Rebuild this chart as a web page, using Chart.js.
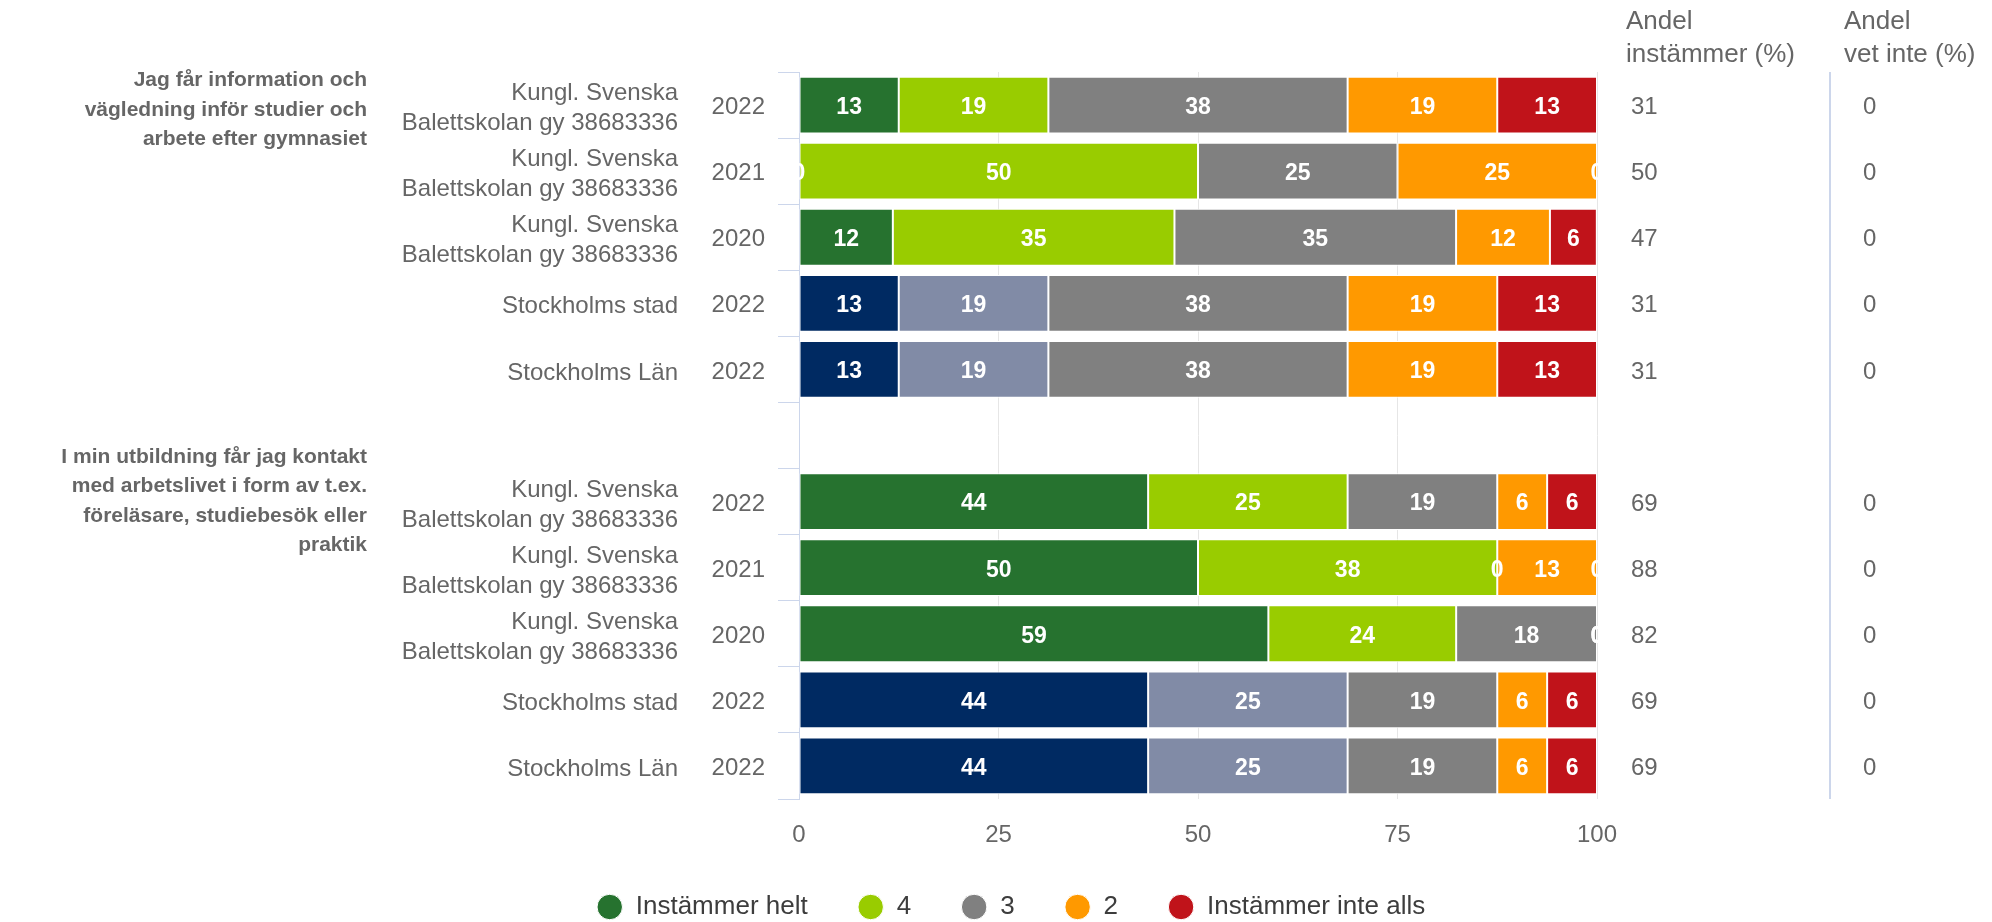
<!DOCTYPE html>
<html>
<head>
<meta charset="utf-8">
<script src="https://cdn.jsdelivr.net/npm/chart.js@4.4.1/dist/chart.umd.min.js"></script>
<style>
  html, body { margin: 0; padding: 0; background: #fff; }
  #wrap { width: 1992px; height: 922px; position: relative; }
</style>
</head>
<body>
<div id="wrap"><canvas id="chart"></canvas></div>
<script>
// Rows of the chart (an empty row separates the two questions)
const schools = [
    ['Kungl. Svenska', 'Balettskolan gy 38683336'],
    ['Kungl. Svenska', 'Balettskolan gy 38683336'],
    ['Kungl. Svenska', 'Balettskolan gy 38683336'],
    ['Stockholms stad'],
    ['Stockholms Län'],
    [],
    ['Kungl. Svenska', 'Balettskolan gy 38683336'],
    ['Kungl. Svenska', 'Balettskolan gy 38683336'],
    ['Kungl. Svenska', 'Balettskolan gy 38683336'],
    ['Stockholms stad'],
    ['Stockholms Län']
];
const years = ['2022', '2021', '2020', '2022', '2022', '', '2022', '2021', '2020', '2022', '2022'];

const questions = [
    ['Jag får information och', 'vägledning inför studier och', 'arbete efter gymnasiet'],
    ['I min utbildning får jag kontakt', 'med arbetslivet i form av t.ex.', 'föreläsare, studiebesök eller', 'praktik']
];
const questionFirstRow = [0, 6];

const seriesNames = ['Instämmer helt', '4', '3', '2', 'Instämmer inte alls'];

// percentages per answer
const helt      = [12.5,  0,    11.76, 12.5,  12.5,  null, 43.75, 50,   58.82, 43.75, 43.75];
const fyra      = [18.75, 50,   35.29, 18.75, 18.75, null, 25,    37.5, 23.53, 25,    25];
const tre       = [37.5,  25,   35.29, 37.5,  37.5,  null, 18.75, 0,    17.65, 18.75, 18.75];
const tva       = [18.75, 25,   11.76, 18.75, 18.75, null, 6.25,  12.5, 0,     6.25,  6.25];
const inteAlls  = [12.5,  0,    5.88,  12.5,  12.5,  null, 6.25,  0,    0,     6.25,  6.25];

const andelInstammer = [31, 50, 47, 31, 31, null, 69, 88, 82, 69, 69];
const andelVetInte   = [0, 0, 0, 0, 0, null, 0, 0, 0, 0, 0];

const xTicks = [0, 25, 50, 75, 100];

const isRegion = schools.map(s => (s[0] || '').startsWith('Stockholms'));
const GREY_TEXT = '#666666';
const LINE_BLUE = '#ccd6eb';
const FONT = "'Liberation Sans', Arial, Helvetica, sans-serif";

Chart.defaults.font.family = FONT;

const barLabels = {
    id: 'barLabels',
    afterDatasetsDraw(chart) {
        const ctx = chart.ctx;
        ctx.save();
        ctx.font = 'bold 23px ' + FONT;
        ctx.fillStyle = '#ffffff';
        ctx.textAlign = 'center';
        ctx.textBaseline = 'middle';
        chart.data.datasets.forEach((ds, di) => {
            const meta = chart.getDatasetMeta(di);
            meta.data.forEach((bar, i) => {
                const v = ds.data[i];
                if (v === null || v === undefined) return;
                ctx.fillText(String(Math.round(v)), (bar.x + bar.base) / 2, bar.y + 2.5);
            });
        });
        ctx.restore();
    }
};

const sideTexts = {
    id: 'sideTexts',
    afterDraw(chart) {
        const ctx = chart.ctx;
        const y = chart.scales.y;
        const area = chart.chartArea;
        ctx.save();
        ctx.fillStyle = GREY_TEXT;
        ctx.textBaseline = 'middle';

        // school names and years
        ctx.font = '24px ' + FONT;
        ctx.textAlign = 'right';
        schools.forEach((lines, i) => {
            const cy = y.getPixelForValue(i) + 2.5;
            const lh = 30;
            lines.forEach((t, k) => {
                ctx.fillText(t, 678, cy + (k - (lines.length - 1) / 2) * lh + 1);
            });
            ctx.fillText(years[i], 765, cy);
        });

        // question titles
        ctx.font = 'bold 21px ' + FONT;
        questions.forEach((lines, q) => {
            const lh = 29.5;
            const first = y.getPixelForValue(questionFirstRow[q]) - 20.4 * (lines.length - 1) + 16.4;
            lines.forEach((t, k) => {
                ctx.fillText(t, 367, first + k * lh);
            });
        });

        // right columns
        ctx.textAlign = 'left';
        ctx.font = '26px ' + FONT;
        ctx.textBaseline = 'alphabetic';
        ctx.fillText('Andel', 1626, 29);
        ctx.fillText('instämmer (%)', 1626, 62);
        ctx.fillText('Andel', 1844, 29);
        ctx.fillText('vet inte (%)', 1844, 62);

        ctx.textBaseline = 'middle';
        ctx.font = '24px ' + FONT;
        andelInstammer.forEach((v, i) => {
            if (v === null) return;
            ctx.fillText(String(v), 1631, y.getPixelForValue(i) + 2.5);
        });
        andelVetInte.forEach((v, i) => {
            if (v === null) return;
            ctx.fillText(String(v), 1863, y.getPixelForValue(i) + 2.5);
        });

        // separator between the two columns
        ctx.strokeStyle = LINE_BLUE;
        ctx.lineWidth = 2;
        ctx.beginPath();
        ctx.moveTo(1830, area.top);
        ctx.lineTo(1830, area.bottom);
        ctx.stroke();
        ctx.restore();
    }
};

function dataset(label, data, colors) {
    return {
        label: label,
        data: data,
        backgroundColor: colors,
        borderColor: '#ffffff',
        borderWidth: 1,
        borderSkipped: false,
        categoryPercentage: 1,
        barPercentage: 0.86
    };
}

new Chart(document.getElementById('chart'), {
    type: 'bar',
    data: {
        labels: years,
        datasets: [
            dataset(seriesNames[0], helt, isRegion.map(r => r ? '#002a62' : '#26722f')),
            dataset(seriesNames[1], fyra, isRegion.map(r => r ? '#818ba6' : '#99cc00')),
            dataset(seriesNames[2], tre, '#808080'),
            dataset(seriesNames[3], tva, '#ff9900'),
            dataset(seriesNames[4], inteAlls, '#c0131a')
        ]
    },
    options: {
        indexAxis: 'y',
        responsive: true,
        maintainAspectRatio: false,
        animation: false,
        layout: {
            padding: { top: 72, right: 395, bottom: -8, left: 425 }
        },
        plugins: {
            tooltip: { enabled: false },
            legend: {
                position: 'bottom',
                labels: {
                    usePointStyle: true,
                    pointStyle: 'circle',
                    boxHeight: 18,
                    padding: 50,
                    color: '#3d3d3d',
                    font: { size: 26 }
                }
            }
        },
        scales: {
            x: {
                stacked: true,
                min: 0,
                max: 100,
                afterBuildTicks: (scale) => {
                    scale.ticks = xTicks.map(v => ({ value: v }));
                },
                afterFit: (scale) => { scale.height = 45; },
                grid: { color: '#e6e6e6', drawTicks: false },
                border: { display: false },
                ticks: { color: GREY_TEXT, font: { size: 24 }, padding: 22 }
            },
            y: {
                stacked: true,
                offset: true,
                afterFit: (scale) => { scale.width = 374; },
                grid: {
                    offset: true,
                    drawOnChartArea: false,
                    drawTicks: true,
                    tickLength: 21,
                    color: LINE_BLUE
                },
                border: { display: true, color: LINE_BLUE },
                ticks: { display: false }
            }
        }
    },
    plugins: [barLabels, sideTexts]
});
</script>
</body>
</html>
